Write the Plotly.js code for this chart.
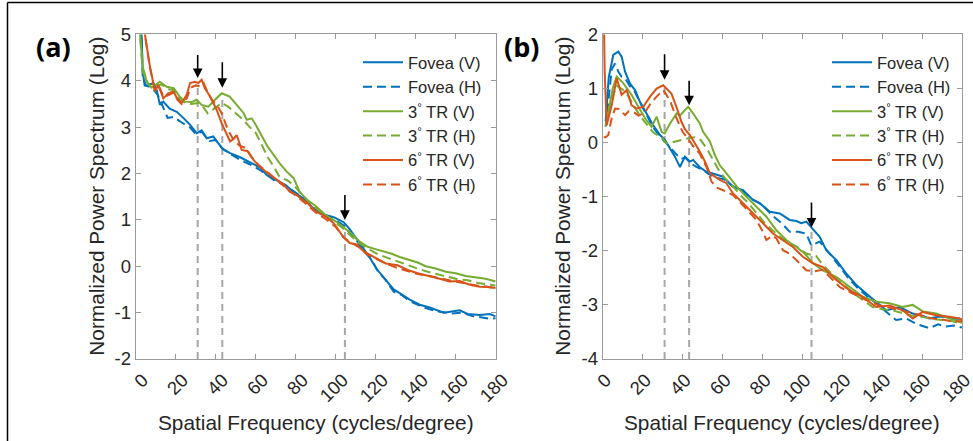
<!DOCTYPE html>
<html><head><meta charset="utf-8">
<script src="https://cdn.plot.ly/plotly-3.0.1.min.js"></script>
<style>html,body{margin:0;padding:0;background:#fff}</style>
</head><body><div id="chart" style="width:973px;height:441px"></div>
<script>
// ---------- tick labels / categories ----------
const xTicks = [0,20,40,60,80,100,120,140,160,180];
const yTicksA = [-2,-1,0,1,2,3,4,5];
const yTicksB = [-4,-3,-2,-1,0,1,2];
const seriesNames = ['Fovea (V)','Fovea (H)','3<sup>°</sup> TR (V)','3<sup>°</sup> TR (H)','6<sup>°</sup> TR (V)','6<sup>°</sup> TR (H)'];

// ---------- panel (a) ----------
const aFovV_x = [2.8,3.5,4.5,6,8.8,10.5,12.1,13.8,17,20.5,23.8,27.2,30.5,33,35.5,38.8,41.3,43.8,47.2,52.2,57.2,62.2,65.5,70,75,79,84,89,93,99,104,107,110.5,114,117,120.5,124,129,132,137,142,147,154,159,162,166,172,177,180];
const aFovV_y = [5.2,4.2,3.9,3.9,3.95,3.8,3.48,3.55,3.4,3.33,3.2,3.05,2.87,2.93,2.76,2.8,2.65,2.52,2.44,2.35,2.24,2.13,1.97,1.86,1.75,1.6,1.46,1.24,1.13,1.06,0.95,0.8,0.58,0.37,0.19,-0.06,-0.24,-0.5,-0.58,-0.72,-0.83,-0.89,-1.0,-0.96,-0.95,-1.03,-1.05,-1.03,-1.08];
const aFovH_x = [2.8,3.5,5,8,11,13,16,19,23,27,30,33,37,40,43,47,52,57,62,66,70,75,80,84,89,94,99,104,107,111,114,118,121,125,129,133,137,142,147,152,158,163,168,173,177,180];
const aFovH_y = [5.2,4.1,3.9,3.85,3.7,3.5,3.2,3.22,3.1,3.0,2.85,2.9,2.7,2.72,2.55,2.43,2.3,2.2,2.08,1.96,1.83,1.74,1.58,1.46,1.25,1.12,1.02,0.88,0.72,0.52,0.33,0.14,-0.1,-0.3,-0.55,-0.62,-0.75,-0.85,-0.93,-0.98,-1.02,-1.0,-1.07,-1.1,-1.13,-1.12];
const a3V_x = [1.8,3.5,4.5,5.5,8,10,12,15.5,19,22,24.6,28,30.5,33,36.3,39.7,43,47,50.5,54,55.5,58,60,63,66,69,72,75.5,79,82,86,90,95,100,105,108,112,116,119,124,128,132,137,141,145,150,155,160,165,170,175,180];
const a3V_y = [5.2,4.3,4.15,3.98,3.85,3.91,3.98,3.87,3.84,3.66,3.55,3.54,3.59,3.48,3.44,3.59,3.73,3.66,3.48,3.3,3.16,3.19,3.05,2.83,2.58,2.4,2.22,2.04,1.9,1.6,1.42,1.3,1.1,0.97,0.8,0.7,0.53,0.42,0.38,0.32,0.27,0.2,0.14,0.08,0.0,-0.05,-0.12,-0.15,-0.21,-0.24,-0.27,-0.33];
const a3H_x = [1.8,3.5,5,6,8,10,13,16,19,22,25,28,31,34,36,40,43,46,50,54,57,60,63,66,69,72,76,80,84,88,93,98,103,107,111,116,121,126,131,136,141,146,151,156,161,166,171,176,180];
const a3H_y = [5.2,4.2,4.05,3.95,3.85,3.9,3.92,3.82,3.8,3.6,3.52,3.5,3.52,3.42,3.3,3.42,3.52,3.45,3.3,3.15,3.0,2.88,2.62,2.35,2.15,1.92,1.85,1.7,1.5,1.33,1.15,1.0,0.84,0.68,0.52,0.38,0.26,0.18,0.1,0.02,-0.05,-0.12,-0.17,-0.22,-0.28,-0.3,-0.36,-0.39,-0.42];
const a6V_x = [3,4.6,7,9.6,11.3,13.8,16.3,18.8,21,23,25.5,27.2,29.6,31.3,33,34.6,37.2,40.5,43,45.5,47.2,49,50.5,53,56,59,62,65,68,71,74,77,80,83,86,90,95,99,104,107,110.5,114,119,125,131,136,141,146,151,157,162,167,172,176,180];
const a6V_y = [5.8,5.0,4.34,3.77,3.91,3.62,3.73,3.77,3.6,3.52,3.7,3.95,3.98,3.95,4.02,3.84,3.66,3.37,3.08,2.83,2.69,2.75,2.83,2.51,2.48,2.29,2.15,2.04,1.95,1.86,1.76,1.61,1.55,1.45,1.36,1.18,1.07,0.93,0.62,0.5,0.47,0.32,0.21,0.06,0.02,-0.08,-0.15,-0.2,-0.26,-0.33,-0.32,-0.4,-0.44,-0.45,-0.47];
const a6H_x = [3,4.6,7,9.6,12,14,17,19,21,23,25.5,27.5,30,32,34,36,38,41,43,46,49,52,55,58,61,64,67,70,74,78,82,86,90,95,100,104,108,112,116,121,126,131,136,141,146,151,156,161,166,171,176,180];
const a6H_y = [5.8,5.0,4.3,3.8,3.85,3.65,3.7,3.75,3.58,3.5,3.62,3.85,3.9,3.88,3.95,3.75,3.6,3.45,3.3,2.95,2.72,2.6,2.55,2.35,2.2,2.1,2.0,1.88,1.73,1.6,1.47,1.32,1.16,1.02,0.85,0.62,0.5,0.4,0.25,0.15,0.04,-0.04,-0.1,-0.17,-0.2,-0.25,-0.3,-0.34,-0.38,-0.42,-0.44,-0.48];

// ---------- panel (b) ----------
const bFovV_x = [1.5,3,5.3,7.8,9.5,11.2,13.7,16.2,18.7,22,25.3,28.7,31.2,33.7,36.2,38.7,41.2,43.7,45.3,48.5,52,56,60.3,65.3,70.3,75.3,78.7,83.7,88.7,93.7,97,99.5,102,105.3,108.7,112,117,122,127,132,137,142,148.7,155.3,160,163.7,168,172,175,178.7,180];
const bFovV_y = [0.4,1.2,1.62,1.68,1.59,1.31,1.09,0.97,0.75,0.54,0.32,0.14,0.05,-0.11,-0.26,-0.45,-0.26,-0.35,-0.32,-0.45,-0.54,-0.58,-0.63,-0.82,-0.88,-1.06,-1.12,-1.28,-1.31,-1.43,-1.45,-1.49,-1.46,-1.6,-1.74,-1.99,-2.17,-2.42,-2.63,-2.79,-2.94,-3.1,-3.04,-3.16,-3.2,-3.25,-3.22,-3.22,-3.26,-3.25,-3.28];
const bFovH_x = [1.5,3,4.5,6.2,8,9.5,11,13.5,16,19,22,25,28.5,31,34,36.5,39,41.5,44,47,50,53,57,61,65,70,75,80,85,90,93.7,98,102,104.5,108.7,113.7,118,123,128,133,138,143,147,152,157,163.7,168,172,176,180];
const bFovH_y = [0.3,0.9,1.35,1.46,1.3,1.22,1.2,1.05,0.95,0.72,0.5,0.3,0.12,0.02,-0.08,-0.2,-0.3,-0.28,-0.38,-0.45,-0.5,-0.58,-0.65,-0.68,-0.8,-0.9,-1.05,-1.15,-1.35,-1.5,-1.65,-1.65,-1.68,-1.9,-1.83,-2.05,-2.25,-2.5,-2.7,-2.85,-3.0,-3.15,-3.28,-3.25,-3.35,-3.43,-3.36,-3.4,-3.38,-3.42];
const b3V_x = [1.5,3.7,5,7,10.3,14.5,17.8,21.2,24.5,27,29.5,31,33.7,37,38.7,42.8,45.3,48.7,50.3,53.7,56.2,58.7,62,65.3,68,72,77,82,87,92,97,101.2,105.3,110.3,117,123.7,130.3,137,143.7,150.3,155.3,160.3,167,173.7,178.7,180];
const b3V_y = [0.3,0.75,1.0,1.22,1.1,0.88,0.66,0.45,0.29,0.48,0.2,0.17,0.35,0.54,0.5,0.66,0.54,0.35,0.2,0.02,-0.23,-0.42,-0.57,-0.72,-0.85,-1.0,-1.19,-1.37,-1.62,-1.8,-1.93,-2.05,-2.23,-2.36,-2.48,-2.67,-2.85,-2.94,-2.97,-3.04,-3.0,-3.12,-3.16,-3.25,-3.31,-3.33];
const b3H_x = [1.5,3.5,5,7,10,13,16,19,22,25,28,30,32,34,37,40,43,46,49,52,55,58,61,65,69,73,77,81,85,89,93,97,102,107,110,113.7,118,123.7,128,132,135.3,140,145,150,155,160,165,170,175,180];
const b3H_y = [0.3,0.6,0.85,1.05,0.98,0.85,0.65,0.48,0.33,0.2,0.12,0.08,-0.02,0.0,0.02,0.05,0.08,0.1,0.05,-0.1,-0.3,-0.5,-0.65,-0.8,-0.97,-1.12,-1.3,-1.48,-1.62,-1.75,-1.85,-1.92,-2.05,-2.1,-2.25,-2.39,-2.55,-2.72,-2.85,-2.95,-3.04,-3.08,-3.1,-3.15,-3.2,-3.22,-3.26,-3.28,-3.3,-3.35];
const b6V_x = [0.5,1,2,4.5,7,9.5,12,14.5,17,20.3,23.7,27,30.3,32.8,34.5,37,39.5,41.2,43.7,48.7,51.2,53.7,58.7,62,65.3,70.3,75.3,80.3,85.3,90.3,95.3,100.3,105.3,110.3,117,123.7,130.3,137,143.7,150.3,155.3,160.3,167,173.7,178.7,180];
const b6V_y = [2.5,1.3,0.32,0.69,1.19,0.88,0.97,0.69,0.63,0.66,0.85,1.0,1.06,0.96,0.9,0.65,0.38,0.25,0.14,-0.17,-0.35,-0.57,-0.69,-0.75,-0.94,-1.12,-1.3,-1.49,-1.68,-1.8,-1.93,-2.11,-2.23,-2.3,-2.54,-2.73,-2.85,-3.04,-3.01,-3.1,-3.25,-3.13,-3.19,-3.22,-3.25,-3.28];
const b6H_x = [0.5,1.5,2.8,4.5,6.2,8,11.2,13,15.3,18,21,24,27,30.3,32,34,37,40,42,45,48.7,52,54.5,57,60.3,65.3,70.3,75,77,80.3,82,85,87,90.3,93.5,97,102,106,110,113.7,118.7,125.3,132,138,144,150.3,155,160,165,170,175,180];
const b6H_y = [0.1,0.1,0.14,0.45,0.63,0.62,0.51,0.58,0.57,0.5,0.55,0.72,0.85,0.97,0.88,0.75,0.45,0.2,0.11,-0.05,-0.21,-0.45,-0.72,-0.83,-0.88,-0.97,-1.16,-1.35,-1.43,-1.65,-1.8,-1.72,-1.77,-1.99,-2.05,-2.17,-2.36,-2.38,-2.35,-2.48,-2.67,-2.79,-2.91,-3.0,-3.05,-3.1,-3.15,-3.2,-3.25,-3.27,-3.3,-3.3];

// ---------- peak markers ----------
const peakFreq = [31, 43.3, 104.6];
const aPeakTop = [3.98, 3.7, 0.92];
const aArrowFrom = [4.59, 4.43, 1.57];
const aArrowTo = [4.06, 3.85, 1.0];
const bPeakTop = [1.05, 0.65, -1.6];
const bArrowFrom = [1.66, 1.17, -1.08];
const bArrowTo = [1.16, 0.69, -1.57];

// ---------- style ----------
const colors = ['#0072BD','#0072BD','#77AC30','#77AC30','#D95319','#D95319'];
const dashes = ['solid','9px,5px','solid','9px,5px','solid','9px,5px'];
const FONT = 'Liberation Sans, Arial, sans-serif';
const TXT = '#262626';
const AX = '#9a9a9a';

const aSeries = [[aFovV_x,aFovV_y],[aFovH_x,aFovH_y],[a3V_x,a3V_y],[a3H_x,a3H_y],[a6V_x,a6V_y],[a6H_x,a6H_y]];
const bSeries = [[bFovV_x,bFovV_y],[bFovH_x,bFovH_y],[b3V_x,b3V_y],[b3H_x,b3H_y],[b6V_x,b6V_y],[b6H_x,b6H_y]];

const traces = [];
function guides(tops, xa, ya, ymin){
  peakFreq.forEach((f,i)=>{
    traces.push({x:[f,f], y:[ymin,tops[i]], xaxis:xa, yaxis:ya, mode:'lines', showlegend:false, hoverinfo:'skip',
      line:{color:'#a6a6a6', width:2, dash:'7px,5px'}});
  });
}
guides(aPeakTop,'x','y',-2);
guides(bPeakTop,'x2','y2',-4);
aSeries.forEach((s,i)=>traces.push({x:s[0], y:s[1], xaxis:'x', yaxis:'y', mode:'lines', name:seriesNames[i], legend:'legend',
  line:{color:colors[i], width:2, dash:dashes[i]}}));
bSeries.forEach((s,i)=>traces.push({x:s[0], y:s[1], xaxis:'x2', yaxis:'y2', mode:'lines', name:seriesNames[i], legend:'legend2',
  line:{color:colors[i], width:2, dash:dashes[i]}}));

const W = 973, H = 441;
const xDomA = [135.7/W, 495.7/W];
const xDomB = [602.7/W, 962/W];
const yDom = [(H-359)/H, (H-34.4)/H];

function xax(dom, anchor, shift){
  return {domain:dom, anchor:anchor, range:[0,180], tickvals:xTicks, ticktext:xTicks.map(String), tickangle:-45,
    ticks:'inside', ticklen:5, tickwidth:1, tickcolor:AX, showline:true, linecolor:AX, linewidth:1, mirror:'ticks',
    ticklabelshift:shift, ticklabelstandoff:2, ticklabeloverflow:'allow',
    showgrid:false, zeroline:false, tickfont:{family:FONT, size:18.5, color:TXT}};
}
function yax(range, vals, anchor){
  return {domain:yDom, anchor:anchor, range:range, tickvals:vals, ticktext:vals.map(String),
    ticks:'inside', ticklen:5, tickwidth:1, tickcolor:AX, showline:true, linecolor:AX, linewidth:1, mirror:'ticks',
    showgrid:false, zeroline:false, tickfont:{family:FONT, size:18.5, color:TXT}};
}

const annotations = [];
function arrows(from, to, xr, yr){
  peakFreq.forEach((f,i)=>annotations.push({x:f, y:to[i], ax:f, ay:from[i], xref:xr, yref:yr, axref:xr, ayref:yr,
    text:'', showarrow:true, arrowhead:2, arrowsize:1.2, arrowwidth:1.6, arrowcolor:'#000'}));
}
arrows(aArrowFrom, aArrowTo, 'x','y');
arrows(bArrowFrom, bArrowTo, 'x2','y2');
const titleFont = {family:FONT, size:20.8, color:TXT};
annotations.push(
  {text:'Spatial Frequency (cycles/degree)', x:(xDomA[0]+xDomA[1])/2, y:(H-422)/H, xref:'paper', yref:'paper', showarrow:false, xanchor:'center', yanchor:'middle', font:titleFont},
  {text:'Spatial Frequency (cycles/degree)', x:(xDomB[0]+xDomB[1])/2, y:(H-422)/H, xref:'paper', yref:'paper', showarrow:false, xanchor:'center', yanchor:'middle', font:titleFont},
  {text:'Normalized Power Spectrum (Log)', x:97/W, y:(yDom[0]+yDom[1])/2, xref:'paper', yref:'paper', showarrow:false, textangle:-90, xanchor:'center', yanchor:'middle', font:titleFont},
  {text:'Normalized Power Spectrum (Log)', x:563/W, y:(yDom[0]+yDom[1])/2, xref:'paper', yref:'paper', showarrow:false, textangle:-90, xanchor:'center', yanchor:'middle', font:titleFont},
  {text:'<b>(a)</b>', x:53/W, y:(H-46)/H, xref:'paper', yref:'paper', showarrow:false, xanchor:'center', yanchor:'middle', font:{family:'Open Sans, sans-serif', size:27, color:'#000'}},
  {text:'<b>(b)</b>', x:521/W, y:(H-46)/H, xref:'paper', yref:'paper', showarrow:false, xanchor:'center', yanchor:'middle', font:{family:'Open Sans, sans-serif', size:27, color:'#000'}}
);

const legBase = {bgcolor:'rgba(255,255,255,0)', borderwidth:0, font:{family:FONT, size:16.5, color:TXT},
  xanchor:'left', yanchor:'top', itemwidth:40, tracegroupgap:0};

const layout = {
  width:W, height:H, margin:{l:0,r:0,t:0,b:0}, paper_bgcolor:'#fff', plot_bgcolor:'#fff',
  xaxis:xax(xDomA,'y',7), yaxis:yax([-2,5], yTicksA,'x'),
  xaxis2:xax(xDomB,'y2',3), yaxis2:yax([-4,2], yTicksB,'x2'),
  legend:Object.assign({x:358/W, y:(H-45)/H}, legBase),
  legend2:Object.assign({x:827/W, y:(H-45)/H}, legBase),
  annotations:annotations,
  shapes:[
    {type:'line', xref:'paper', yref:'paper', x0:7.5/W, x1:7.5/W, y0:0, y1:(H-2.5)/H, line:{color:'#000', width:1.5}},
    {type:'line', xref:'paper', yref:'paper', x0:7.5/W, x1:1, y0:(H-2.5)/H, y1:(H-2.5)/H, line:{color:'#000', width:1.5}}
  ],
  showlegend:true
};
Plotly.newPlot('chart', traces, layout, {displayModeBar:false, staticPlot:true});
</script></body></html>
